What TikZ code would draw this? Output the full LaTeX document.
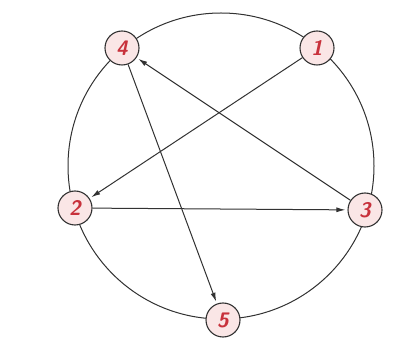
\documentclass[tikz,border=0pt]{standalone}
\usetikzlibrary{arrows.meta}
\definecolor{nodefill}{RGB}{250,230,230}
\definecolor{numred}{RGB}{200,50,60}
\definecolor{linegray}{RGB}{50,50,50}
\tikzset{
  vert/.style={circle, draw=linegray, line width=1.1pt, fill=nodefill, minimum size=34pt, inner sep=0pt,
    font=\sffamily\bfseries\itshape\fontsize{21}{21}\selectfont, text=numred},
  edge/.style={draw=linegray, line width=1pt, -{Latex[length=9pt,width=5pt]}, shorten >=2pt}
}
\begin{document}
\begin{tikzpicture}[x=1pt,y=-1pt]
\useasboundingbox[fill=white] (0,0) rectangle (404,344);
\draw[linegray, line width=1pt] (221,166) circle (153);
\node[vert] (n4) at (122,48) {4};
\node[vert] (n1) at (317,48) {1};
\node[vert] (n2) at (75,208) {2};
\node[vert] (n3) at (365,210) {3};
\node[vert] (n5) at (223,320) {5};
\draw[edge] (n1) -- (n2);
\draw[edge] (n2) -- (n3);
\draw[edge] (n3) -- (n4);
\draw[edge] (n4) -- (n5);
\end{tikzpicture}
\end{document}
